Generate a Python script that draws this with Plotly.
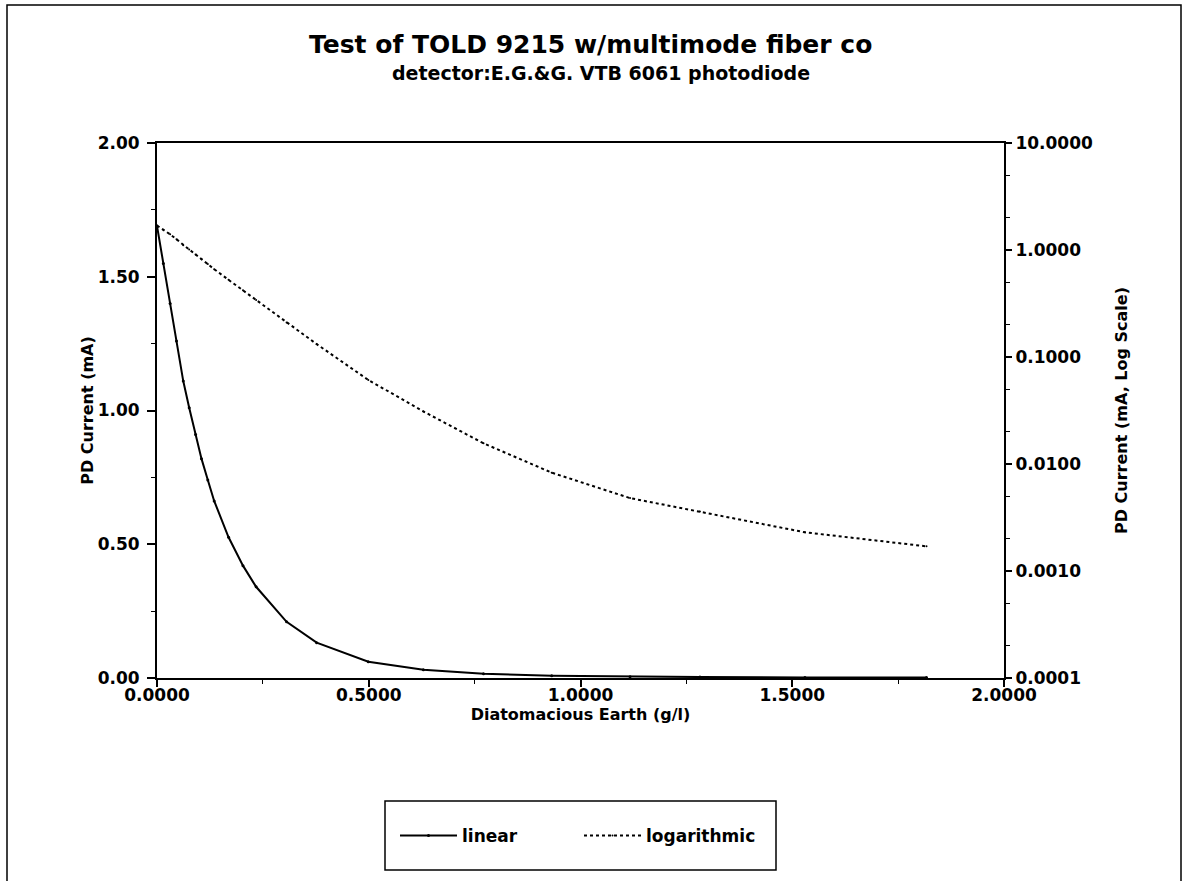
import plotly.graph_objects as go

earth_gl = [0.000, 0.015, 0.031, 0.046, 0.062, 0.076, 0.091, 0.105, 0.120, 0.135,
            0.169, 0.203, 0.234, 0.306, 0.377, 0.499, 0.629, 0.771, 0.932, 1.117,
            1.282, 1.530, 1.817]
pd_current_ma = [1.69, 1.55, 1.40, 1.26, 1.11, 1.01, 0.91, 0.82, 0.74, 0.662,
                 0.526, 0.42, 0.341, 0.210, 0.132, 0.061, 0.031, 0.0156, 0.0083, 0.0048,
                 0.0036, 0.0023, 0.0017]

series_names = ["linear", "logarithmic"]
left_ticks = [0.0, 0.5, 1.0, 1.5, 2.0]
right_ticks = [0.0001, 0.001, 0.01, 0.1, 1.0, 10.0]
x_ticks = [0.0, 0.5, 1.0, 1.5, 2.0]

FONT = "DejaVu Sans, Arial, sans-serif"
W, H = 1186, 881
L, R, T, B = 157, 1004, 143, 678  # plot area pixels


def px(x):
    return (x - L) / (R - L)


def py(y):
    return (B - y) / (B - T)


fig = go.Figure()
fig.add_trace(go.Scatter(
    x=earth_gl, y=pd_current_ma, name=series_names[0], mode="lines+markers",
    line=dict(color="black", width=2), marker=dict(size=3, color="black"),
    yaxis="y"))
fig.add_trace(go.Scatter(
    x=earth_gl, y=pd_current_ma, name=series_names[1], mode="lines+markers",
    line=dict(color="black", width=2, dash="dot"), marker=dict(size=2, color="black"),
    yaxis="y2"))

tickfont = dict(family=FONT, size=17, color="black", weight="bold")
titlefont = dict(family=FONT, size=16, color="black", weight="bold")

fig.update_layout(
    width=W, height=H,
    margin=dict(l=L, r=W - R, t=T, b=H - B, autoexpand=False),
    paper_bgcolor="white", plot_bgcolor="white",
    showlegend=True,
    xaxis=dict(
        range=[0, 2], tickvals=x_ticks, ticktext=[f"{v:.4f}" for v in x_ticks],
        showgrid=False, zeroline=False, showline=True, linecolor="black", linewidth=2,
        mirror=True, ticks="outside", ticklen=7, tickwidth=2, tickcolor="black",
        ticklabelstandoff=-6,
        minor=dict(ticks="outside", ticklen=4, tickwidth=1, tickcolor="black", dtick=0.25),
        tickfont=tickfont,
        title=dict(text="Diatomacious Earth (g/l)", font=titlefont, standoff=2)),
    yaxis=dict(
        range=[0, 2], tickvals=left_ticks, ticktext=[f"{v:.2f}" for v in left_ticks],
        showgrid=False, zeroline=False, showline=True, linecolor="black", linewidth=2,
        ticks="outside", ticklen=8, tickwidth=2, tickcolor="black",
        ticklabelstandoff=4,
        minor=dict(ticks="outside", ticklen=4, tickwidth=1, tickcolor="black", dtick=0.25),
        tickfont=tickfont,
        title=dict(text="PD Current (mA)", font=titlefont, standoff=0)),
    yaxis2=dict(
        type="log", range=[-4, 1], overlaying="y", side="right",
        tickvals=right_ticks, ticktext=[f"{v:.4f}" for v in right_ticks],
        showgrid=False, zeroline=False, showline=True, linecolor="black", linewidth=2,
        ticks="outside", ticklen=6, tickwidth=2, tickcolor="black",
        minor=dict(ticks="outside", ticklen=4, tickwidth=1, tickcolor="black"),
        tickfont=tickfont,
        title=dict(text="PD Current (mA, Log Scale)", font=titlefont, standoff=24)),
    legend=dict(
        orientation="h", x=px(395), xanchor="left", y=py(836), yanchor="middle",
        bgcolor="rgba(0,0,0,0)", borderwidth=0,
        font=dict(family=FONT, size=17, color="black", weight="bold"),
        itemwidth=57, entrywidth=112, entrywidthmode="pixels"),
    annotations=[
        dict(text="Test of TOLD 9215 w/multimode fiber co", xref="paper", yref="paper",
             x=px(590), y=py(44), xanchor="center", yanchor="middle", showarrow=False,
             font=dict(family=FONT, size=25, color="black", weight="bold")),
        dict(text="detector:E.G.&G. VTB 6061 photodiode", xref="paper", yref="paper",
             x=px(601), y=py(73), xanchor="center", yanchor="middle", showarrow=False,
             font=dict(family=FONT, size=19, color="black", weight="bold")),
    ],
    shapes=[
        dict(type="rect", xref="paper", yref="paper",
             x0=px(385), x1=px(776), y0=py(870), y1=py(801),
             line=dict(color="black", width=1.5), fillcolor="rgba(0,0,0,0)"),
        dict(type="rect", xref="paper", yref="paper",
             x0=px(7), x1=px(1181), y0=py(895), y1=py(5),
             line=dict(color="black", width=1.5), fillcolor="rgba(0,0,0,0)"),
    ],
)

fig.write_html("out.html", config={"displayModeBar": False},
               post_script="document.body.style.margin='0';")
